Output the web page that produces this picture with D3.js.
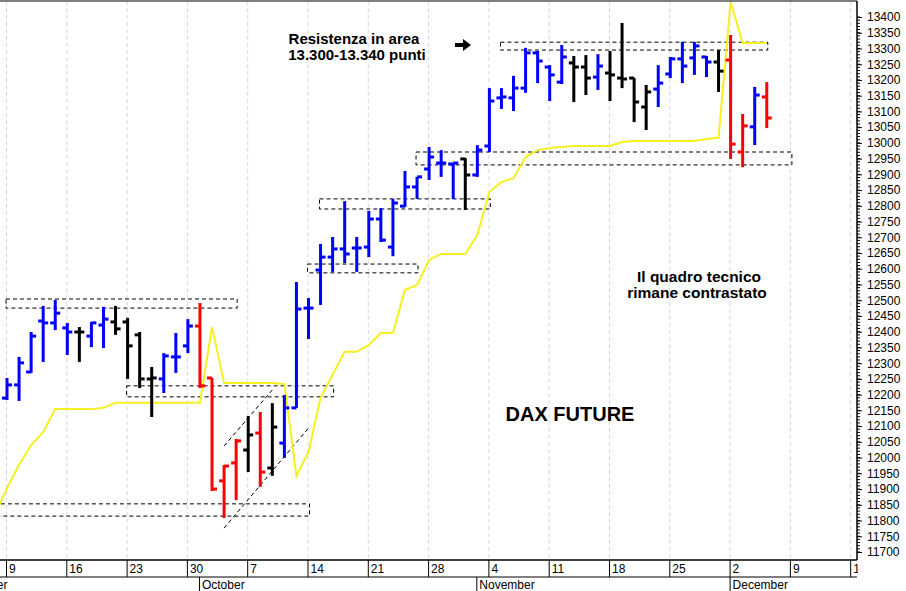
<!DOCTYPE html>
<html>
<head>
<meta charset="utf-8">
<script src="https://cdn.jsdelivr.net/npm/d3@7"></script>
<style>
  body { margin: 0; background: #fff; }
  text { font-family: "Liberation Sans", Arial, sans-serif; }
</style>
</head>
<body>
<div id="chart"></div>
<script>
// DAX future daily bars, index -1 = Sep 6 2019, 0 = Sep 9 ... 63 = Dec 5
const firstIdx = -1;
const opens  = [12190,12189,12231,12272,12434,12428,12412,12399,12386,12421,12431,12431,12390,12250,12250,12320,12355,12418,12253,11926,11983,12024,12078,11967,12046,12158,12475,12596,12637,12663,12666,12669,12758,12669,12799,12860,12917,12936,12933,12949,12898,12990,13143,13143,13174,13286,13241,13193,13254,13241,13209,13222,13206,13206,13114,13171,13219,13267,13270,13273,13257,13263,12971,13051,13146];
const highs  = [12240,12253,12320,12399,12482,12501,12428,12415,12431,12479,12482,12444,12399,12288,12332,12396,12440,12491,12253,11976,12059,12132,12145,12173,12199,12558,12507,12679,12701,12815,12701,12784,12793,12822,12911,12892,12987,12977,12936,12952,12993,13174,13174,13213,13302,13292,13247,13311,13276,13279,13282,13292,13381,13206,13184,13247,13273,13321,13321,13276,13295,13343,13092,13178,13193];
const lows   = [12170,12183,12180,12269,12304,12405,12326,12304,12351,12348,12390,12250,12221,12129,12205,12269,12332,12221,11894,11808,11865,11954,11907,11942,11999,12158,12377,12485,12590,12618,12590,12637,12685,12640,12796,12822,12882,12892,12822,12787,12892,12971,13108,13101,13159,13190,13133,13187,13130,13152,13168,13133,13174,13066,13041,13114,13206,13190,13216,13209,13162,12949,12923,12993,13047];
const closes = [12190,12231,12301,12386,12428,12459,12399,12399,12428,12440,12409,12355,12250,12253,12323,12320,12418,12228,11900,11973,12053,12072,11954,12097,12158,12472,12475,12637,12663,12647,12666,12758,12691,12809,12860,12892,12955,12936,12936,12898,12977,13133,13146,13174,13286,13260,13216,13273,13241,13206,13244,13216,13203,13130,13162,13190,13267,13244,13308,13257,13228,12996,13054,13152,13079];
// b = blue, k = black, r = red
const barColors = "bbbbbbbkbbkkkkbbbrrrrkrkbbbbbbbbbbbbbbbkbbbbbbbbkkbkkkkbbbbbkrrbr";
// trailing line (yellow)
const trail = [11818,11903,11977,12040,12081,12154,12154,12154,12154,12158,12174,12174,12174,12174,12174,12174,12174,12174,12415,12237,12237,12237,12237,12237,12234,11942,12018,12190,12263,12336,12336,12358,12396,12396,12533,12548,12628,12647,12647,12647,12707,12844,12876,12888,12955,12977,12984,12987,12990,12990,12990,12990,13003,13006,13006,13006,13006,13006,13006,13012,13016,13448,13317,13317,13317];

// dashed zones: [fromIdx, toIdx, top, bottom]
const zones = [
  [0, 19, 12504, 12475],
  [10, 27, 12228, 12193],
  [-1, 25, 11853, 11814],
  [25, 34, 12615, 12587],
  [26, 40, 12822, 12790],
  [34, 65, 12971, 12930],
  [41, 63, 13320, 13295]
];
const channel = [[18, 12037, 22, 12215], [18, 11776, 25, 12094]];

const weekIdx = [0,5,10,15,20,25,30,35,40,45,50,55,60,65,70];
const weekLabels = ["9","16","23","30","7","14","21","28","4","11","18","25","2","9","16"];
const monthIdx = [-5,16,39,60];
const monthLabels = ["September","October","November","December"];

const W = 906, H = 591;
const plotR = 857, plotB = 560, plotT = 1;

const svg = d3.select("#chart").append("svg").attr("width", W).attr("height", H);

const x = d3.scaleLinear().domain([0, 63]).range([7, 7 + 63 * 12.06]);
const y = d3.scaleLinear().domain([11700, 13400]).range([552, 17]);

svg.append("clipPath").attr("id", "clip")
  .append("rect").attr("x", 0).attr("y", plotT).attr("width", plotR).attr("height", plotB - plotT);

const plot = svg.append("g").attr("clip-path", "url(#clip)");

// vertical grid
plot.selectAll(".grid").data(weekIdx).join("line")
  .attr("x1", d => x(d) - 0.5).attr("x2", d => x(d) - 0.5)
  .attr("y1", plotT).attr("y2", plotB)
  .attr("stroke", "#d6d6ea").attr("stroke-dasharray", "4,3");

// zones
plot.selectAll(".zone").data(zones).join("rect")
  .attr("x", d => x(d[0]) - 1).attr("y", d => y(d[2]))
  .attr("width", d => x(d[1]) - x(d[0]) + 2).attr("height", d => y(d[3]) - y(d[2]))
  .attr("fill", "none").attr("stroke", "#000").attr("stroke-width", 1).attr("stroke-dasharray", "4,3");

plot.selectAll(".chan").data(channel).join("line")
  .attr("x1", d => x(d[0])).attr("y1", d => y(d[1]))
  .attr("x2", d => x(d[2])).attr("y2", d => y(d[3]))
  .attr("stroke", "#000").attr("stroke-dasharray", "4,3");

// yellow line
plot.append("path")
  .datum(trail)
  .attr("d", d3.line().x((d, i) => x(i + firstIdx)).y(d => y(d)))
  .attr("fill", "none").attr("stroke", "#f7f020").attr("stroke-width", 2);

// OHLC bars
const col = { b: "#0000ff", k: "#000000", r: "#ff0000" };
const bars = plot.selectAll(".bar").data(opens.map((o, i) => i)).join("g")
  .attr("stroke", i => col[barColors[i]]).attr("stroke-width", 3);
bars.append("line")
  .attr("x1", i => x(i + firstIdx)).attr("x2", i => x(i + firstIdx))
  .attr("y1", i => y(highs[i])).attr("y2", i => y(lows[i]));
bars.append("line")
  .attr("x1", i => x(i + firstIdx) - 5).attr("x2", i => x(i + firstIdx))
  .attr("y1", i => y(opens[i])).attr("y2", i => y(opens[i]));
bars.append("line")
  .attr("x1", i => x(i + firstIdx)).attr("x2", i => x(i + firstIdx) + 5)
  .attr("y1", i => y(closes[i])).attr("y2", i => y(closes[i]));

// frame
svg.append("line").attr("x1", 0).attr("x2", plotR).attr("y1", plotT).attr("y2", plotT).attr("stroke", "#000");
svg.append("line").attr("x1", plotR).attr("x2", plotR).attr("y1", plotT).attr("y2", plotB).attr("stroke", "#000").attr("stroke-width", 1.5);

// right axis
const yAxis = d3.axisRight(y).tickValues(d3.range(11700, 13401, 50)).tickSize(5).tickFormat(d3.format("d"));
const ya = svg.append("g").attr("transform", `translate(${plotR},0)`).call(yAxis);
ya.select(".domain").remove();
ya.selectAll("text").attr("x", 10).attr("font-size", 12).attr("font-family", "Liberation Sans, Arial");
svg.append("g").attr("transform", `translate(${plotR},0)`)
  .selectAll("line").data(d3.range(11700, 13401, 10)).join("line")
  .attr("x1", 0).attr("x2", 3).attr("y1", d => y(d)).attr("y2", d => y(d)).attr("stroke", "#000");

// bottom axis
svg.append("line").attr("x1", 0).attr("x2", plotR).attr("y1", plotB).attr("y2", plotB).attr("stroke", "#000").attr("stroke-width", 1.5);
svg.append("line").attr("x1", 0).attr("x2", plotR).attr("y1", 577).attr("y2", 577).attr("stroke", "#000");
svg.selectAll(".wk").data(weekIdx).join("line")
  .attr("x1", d => x(d) - 0.5).attr("x2", d => x(d) - 0.5).attr("y1", plotB).attr("y2", 577).attr("stroke", "#000");
svg.selectAll(".wkl").data(weekIdx).join("text")
  .attr("x", d => x(d) + 2).attr("y", 573).attr("font-size", 12).text((d, i) => weekLabels[i]);
svg.selectAll(".mo").data(monthIdx).join("line")
  .attr("x1", d => x(d) - 0.5).attr("x2", d => x(d) - 0.5).attr("y1", 577).attr("y2", H).attr("stroke", "#000");
svg.selectAll(".mol").data(monthIdx).join("text")
  .attr("x", d => x(d) + 2).attr("y", 589).attr("font-size", 12).text((d, i) => monthLabels[i]);
// cover label overflow past the axis area
svg.append("rect").attr("x", plotR + 1).attr("y", plotB + 1).attr("width", W).attr("height", 40).attr("fill", "#fff");

// annotations
const ann = svg.append("g").attr("font-weight", "bold").attr("text-anchor", "middle");
ann.append("text").attr("x", 354).attr("y", 44).attr("font-size", 15).text("Resistenza in area");
ann.append("text").attr("x", 357).attr("y", 60).attr("font-size", 15).text("13.300-13.340 punti");
ann.append("text").attr("x", 699).attr("y", 282).attr("font-size", 15.5).text("Il quadro tecnico");
ann.append("text").attr("x", 697).attr("y", 298).attr("font-size", 15.5).text("rimane contrastato");
svg.append("text").attr("x", 570).attr("y", 421).attr("text-anchor", "middle")
  .attr("font-weight", "bold").attr("font-size", 20).text("DAX FUTURE");
svg.append("path").attr("d", "M455,43 h8 v-4 l8,6 l-8,6 v-4 h-8 z").attr("fill", "#000");
</script>
</body>
</html>
